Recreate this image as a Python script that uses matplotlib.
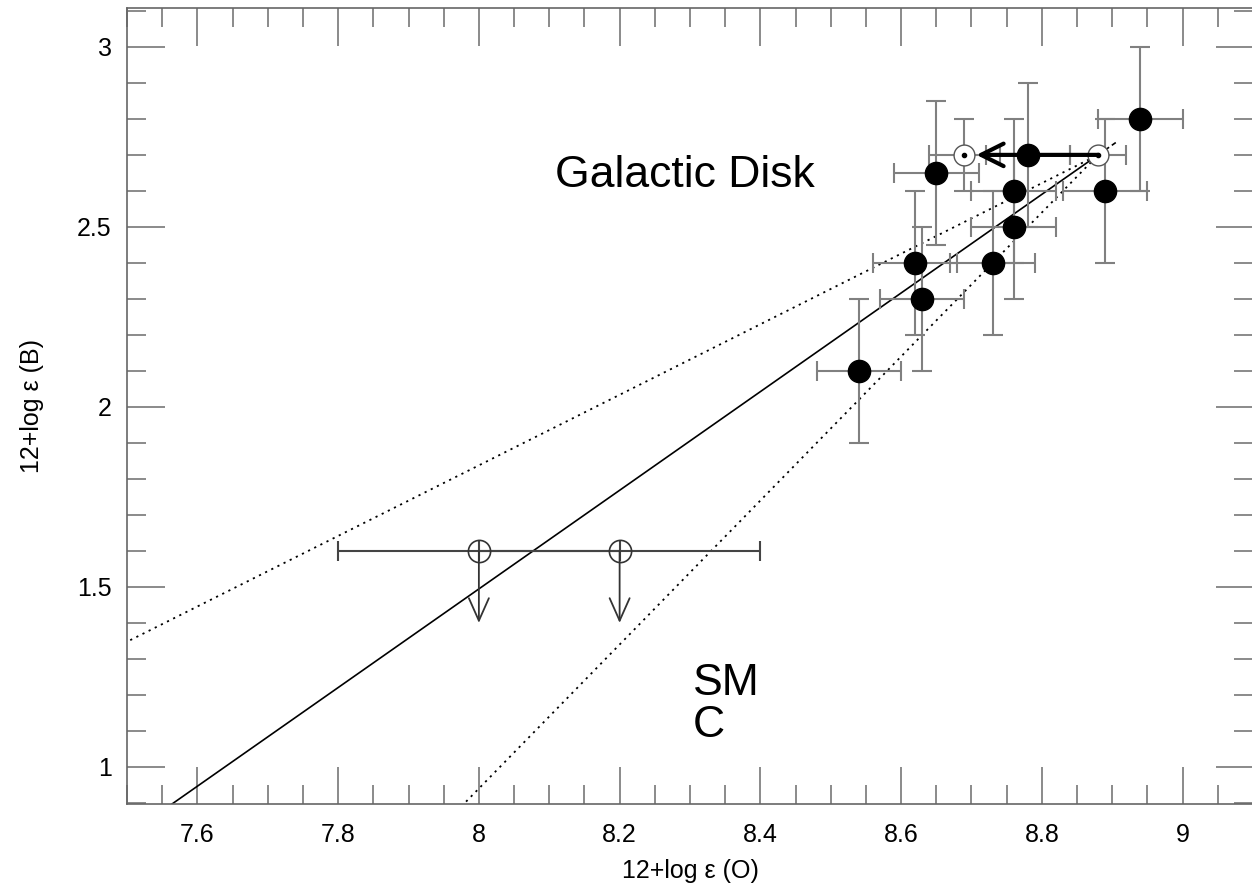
import matplotlib
matplotlib.use("Agg")
import matplotlib.pyplot as plt
from matplotlib.ticker import MultipleLocator

plt.rcParams.update({
    "font.family": ["Liberation Sans", "DejaVu Sans"],
    "font.size": 18,
})

# Galactic disk stars: 12+log eps(O), 12+log eps(B) with errors
disk_O = [8.54, 8.62, 8.63, 8.65, 8.73, 8.76, 8.76, 8.78, 8.89, 8.94]
disk_B = [2.10, 2.40, 2.30, 2.65, 2.40, 2.50, 2.60, 2.70, 2.60, 2.80]
disk_Oerr = [0.06] * 10
disk_Berr = [0.20] * 10

# open (dotted) reference points in the disk
ref_O = [8.69, 8.88]
ref_B = [2.70, 2.70]
ref_Oerr = [0.05, 0.04]
ref_Berr = [0.10, 0.0]

# SMC upper limits
smc_O = [8.0, 8.2]
smc_B = [1.6, 1.6]
smc_Oerr = [0.2, 0.2]
smc_lim = [1.40, 1.40]

# lines through the pivot point (O, B) with three slopes
pivot_O, pivot_B = 8.88, 2.70
slope_fit = 1.37
slope_lo, slope_hi = 0.98, 2.0

ERR = "#808080"

fig = plt.figure(figsize=(12.52, 8.88), dpi=100)
ax = fig.add_axes([127 / 1252, 84 / 888, 1126 / 1252, 796 / 888])

def line(s, x0, x1):
    return [x0, x1], [pivot_B + s * (x0 - pivot_O), pivot_B + s * (x1 - pivot_O)]

ax.plot(*line(slope_fit, 7.4, pivot_O), color="black", lw=1.2)
ax.plot(*line(slope_fit, pivot_O, 8.905), color="black", lw=1.2, ls=(0, (3, 2)))
ax.plot(*line(slope_lo, 7.4, pivot_O), color="black", lw=1.3, ls=(0, (1.2, 2.6)))
ax.plot(*line(slope_hi, 7.9, pivot_O), color="black", lw=1.3, ls=(0, (1.2, 2.6)))

ax.errorbar(disk_O, disk_B, xerr=disk_Oerr, yerr=disk_Berr, fmt="none",
            ecolor=ERR, elinewidth=1.5, capsize=7.5, capthick=1.5, zorder=2)
ax.plot(disk_O, disk_B, "o", color="black", ms=16, zorder=4)

ax.errorbar(ref_O, ref_B, xerr=ref_Oerr, yerr=ref_Berr, fmt="none",
            ecolor=ERR, elinewidth=1.5, capsize=7.5, capthick=1.5, zorder=2)
ax.plot(ref_O, ref_B, "o", mfc="white", mec="#555555", mew=1.0, ms=15, zorder=4)
ax.plot(ref_O, ref_B, "o", color="black", ms=3, zorder=5)
ax.annotate("", xy=(ref_O[0] + 0.017, ref_B[0]), xytext=(ref_O[1], ref_B[1]),
            arrowprops=dict(arrowstyle="->,head_length=0.9,head_width=0.45",
                            lw=3, color="black", shrinkA=0, shrinkB=0), zorder=6)

ax.errorbar(smc_O, smc_B, xerr=smc_Oerr, fmt="none", ecolor="#444444",
            elinewidth=1.5, capsize=7.5, capthick=1.5, zorder=2)
ax.plot(smc_O, smc_B, "o", mfc="none", mec="#333333", mew=1.2, ms=16, zorder=4)
for o, b, lim in zip(smc_O, smc_B, smc_lim):
    ax.annotate("", xy=(o, lim), xytext=(o, b),
                arrowprops=dict(arrowstyle="->,head_length=0.9,head_width=0.4",
                                lw=1.3, color="#333333", shrinkA=0, shrinkB=0))

ax.text(8.108, 2.611, "Galactic Disk", fontsize=32, va="baseline", ha="left")
ax.text(8.304, 1.289, "SM\nC", fontsize=32, va="top", ha="left", linespacing=1.05)

ax.set_xlim(7.5, 9.1)
ax.set_ylim(0.897, 3.108)
ax.xaxis.set_major_locator(MultipleLocator(0.2))
ax.xaxis.set_minor_locator(MultipleLocator(0.05))
ax.yaxis.set_major_locator(MultipleLocator(0.5))
ax.yaxis.set_minor_locator(MultipleLocator(0.1))
ax.xaxis.set_major_formatter(plt.FuncFormatter(lambda v, p: f"{v:g}"))
ax.yaxis.set_major_formatter(plt.FuncFormatter(lambda v, p: f"{v:g}"))
ax.tick_params(which="both", direction="in", top=True, right=True,
               color="#777777", width=1.2, labelsize=18)
ax.tick_params(which="major", length=27, pad=14)
ax.tick_params(which="minor", length=14)
ax.tick_params(axis="y", which="major", pad=11)
for sp in ax.spines.values():
    sp.set_color("#666666")
    sp.set_linewidth(1.2)
ax.spines["right"].set_visible(False)

ax.set_xlabel("12+log ε (O)", fontsize=18, labelpad=8)
ax.set_ylabel("12+log ε (B)", fontsize=18, labelpad=24)

fig.savefig("out.png", dpi=100)
